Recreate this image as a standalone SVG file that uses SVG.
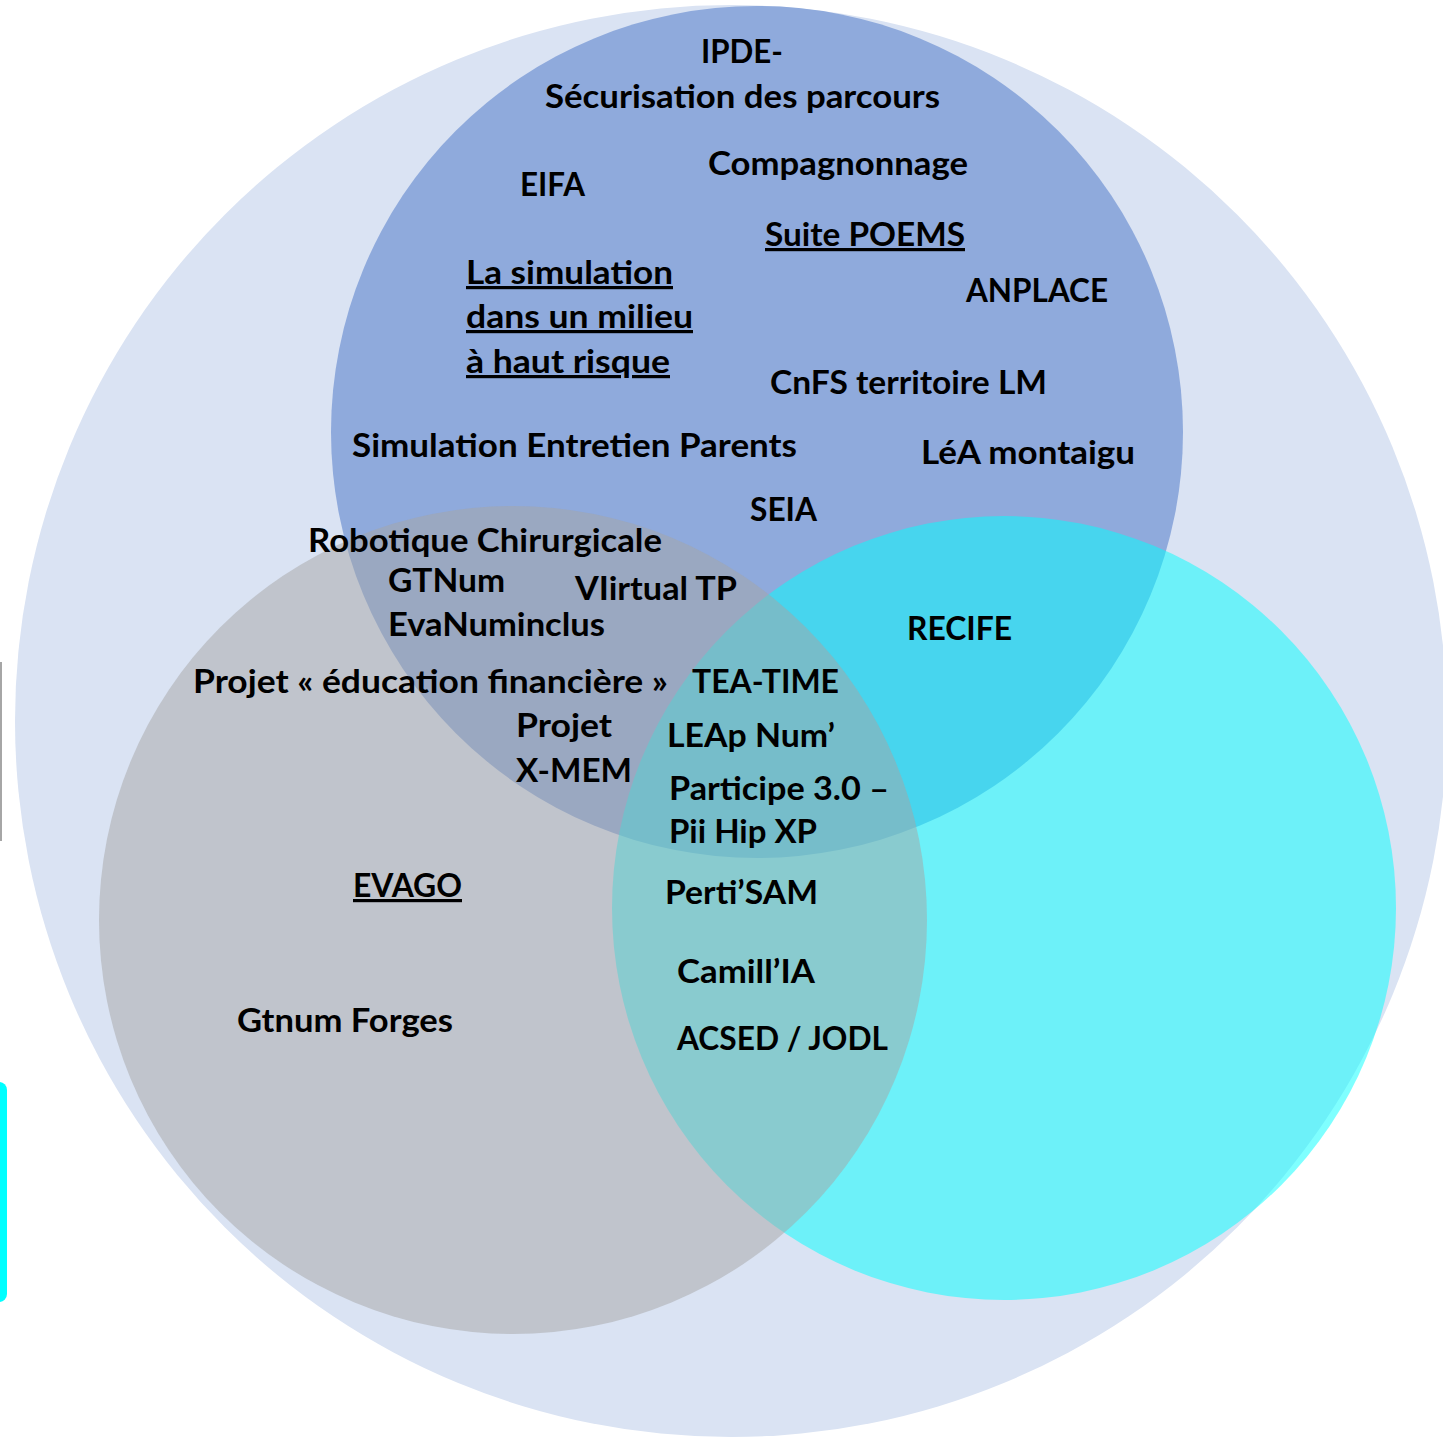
<svg xmlns="http://www.w3.org/2000/svg" width="1443" height="1440" viewBox="0 0 1443 1440">
  <style>
    .lbl { font-family: Lato, "Open Sans", "Liberation Sans", sans-serif; font-weight: 700; font-size: 32px; fill: #000000; }
    .u { text-decoration: underline; }
  </style>
  <rect x="0" y="0" width="1443" height="1440" fill="#FFFFFF"/>
  <!-- edge fragments -->
  <path d="M1,662 L1,841" stroke="#A6A6A6" stroke-width="2" fill="none"/>
  <rect x="-20" y="1082" width="27" height="220" rx="8" fill="#00FFFF"/>
  <!-- circles -->
  <g id="set-all"><circle cx="731" cy="721" r="716" fill="#DAE3F3"/></g>
  <g id="set-blue"><circle cx="757" cy="432" r="426" fill="#8FAADC"/></g>
  <g id="set-cyan"><circle cx="1004" cy="908" r="392" fill="#00FFFF" fill-opacity="0.5"/></g>
  <g id="set-gray"><circle cx="513" cy="920" r="414" fill="#A5A5A5" fill-opacity="0.5"/></g>
  <g id="connectors"/>
  <!-- labels -->
  <g id="n-ipde">
    <text class="lbl" x="701" y="63" textLength="82" lengthAdjust="spacingAndGlyphs">IPDE-</text>
    <text class="lbl" x="545" y="108" textLength="395" lengthAdjust="spacingAndGlyphs">Sécurisation des parcours</text>
  </g>
  <g id="n-eifa"><text class="lbl" x="520" y="196" textLength="65" lengthAdjust="spacingAndGlyphs">EIFA</text></g>
  <g id="n-compagnonnage"><text class="lbl" x="708" y="175" textLength="260" lengthAdjust="spacingAndGlyphs">Compagnonnage</text></g>
  <g id="n-poems"><text class="lbl u" x="765" y="246" textLength="200" lengthAdjust="spacingAndGlyphs">Suite POEMS</text></g>
  <g id="n-anplace"><text class="lbl" x="966" y="302" textLength="142" lengthAdjust="spacingAndGlyphs">ANPLACE</text></g>
  <g id="n-simulation">
    <text class="lbl u" x="466" y="284" textLength="207" lengthAdjust="spacingAndGlyphs">La simulation</text>
    <text class="lbl u" x="466" y="328" textLength="227" lengthAdjust="spacingAndGlyphs">dans un milieu</text>
    <text class="lbl u" x="466" y="373" textLength="204" lengthAdjust="spacingAndGlyphs">à haut risque</text>
  </g>
  <g id="n-cnfs"><text class="lbl" x="770" y="394" textLength="277" lengthAdjust="spacingAndGlyphs">CnFS territoire LM</text></g>
  <g id="n-sep"><text class="lbl" x="352" y="457" textLength="445" lengthAdjust="spacingAndGlyphs">Simulation Entretien Parents</text></g>
  <g id="n-lea"><text class="lbl" x="921" y="464" textLength="214" lengthAdjust="spacingAndGlyphs">LéA montaigu</text></g>
  <g id="n-seia"><text class="lbl" x="750" y="521" textLength="67" lengthAdjust="spacingAndGlyphs">SEIA</text></g>
  <g id="n-robotique"><text class="lbl" x="308" y="552" textLength="354" lengthAdjust="spacingAndGlyphs">Robotique Chirurgicale</text></g>
  <g id="n-gtnum"><text class="lbl" x="388" y="592" textLength="117" lengthAdjust="spacingAndGlyphs">GTNum</text></g>
  <g id="n-virtualtp"><text class="lbl" x="575" y="600" textLength="162" lengthAdjust="spacingAndGlyphs">VIirtual TP</text></g>
  <g id="n-evanuminclus"><text class="lbl" x="388" y="636" textLength="217" lengthAdjust="spacingAndGlyphs">EvaNuminclus</text></g>
  <g id="n-recife"><text class="lbl" x="907" y="640" textLength="105" lengthAdjust="spacingAndGlyphs">RECIFE</text></g>
  <g id="n-eduf"><text class="lbl" x="193" y="693" textLength="475" lengthAdjust="spacingAndGlyphs">Projet « éducation financière »</text></g>
  <g id="n-teatime"><text class="lbl" x="692" y="693" textLength="147" lengthAdjust="spacingAndGlyphs">TEA-TIME</text></g>
  <g id="n-xmem">
    <text class="lbl" x="516" y="737" textLength="96" lengthAdjust="spacingAndGlyphs">Projet</text>
    <text class="lbl" x="516" y="782" textLength="116" lengthAdjust="spacingAndGlyphs">X-MEM</text>
  </g>
  <g id="n-leap"><text class="lbl" x="667" y="747" textLength="168" lengthAdjust="spacingAndGlyphs">LEAp Num’</text></g>
  <g id="n-participe">
    <text class="lbl" x="669" y="800" textLength="220" lengthAdjust="spacingAndGlyphs">Participe 3.0 –</text>
    <text class="lbl" x="669" y="843" textLength="148" lengthAdjust="spacingAndGlyphs">Pii Hip XP</text>
  </g>
  <g id="n-evago"><text class="lbl u" x="353" y="897" textLength="109" lengthAdjust="spacingAndGlyphs">EVAGO</text></g>
  <g id="n-pertisam"><text class="lbl" x="665" y="904" textLength="153" lengthAdjust="spacingAndGlyphs">Perti’SAM</text></g>
  <g id="n-camillia"><text class="lbl" x="677" y="983" textLength="138" lengthAdjust="spacingAndGlyphs">Camill’IA</text></g>
  <g id="n-gtnumforges"><text class="lbl" x="237" y="1032" textLength="216" lengthAdjust="spacingAndGlyphs">Gtnum Forges</text></g>
  <g id="n-acsed"><text class="lbl" x="677" y="1050" textLength="211" lengthAdjust="spacingAndGlyphs">ACSED / JODL</text></g>
</svg>
